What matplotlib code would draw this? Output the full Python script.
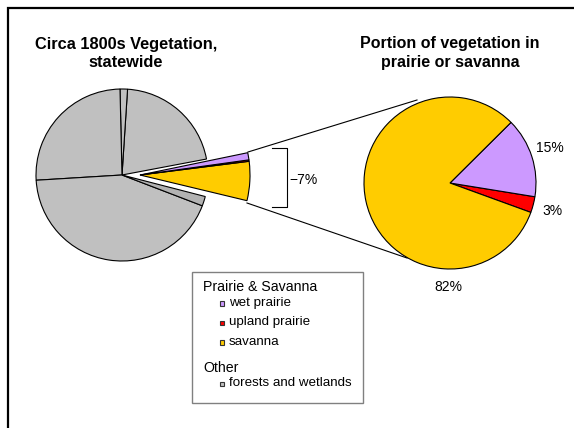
import matplotlib
matplotlib.use('Agg')
import matplotlib.pyplot as plt
from matplotlib.patches import Rectangle

plt.rcParams['font.family'] = ['Liberation Sans', 'DejaVu Sans']

# statewide pie (percent): first entry is the prairie/savanna share, pulled out
state_labels = ['prairie & savanna', 'forest a', 'forest b', 'forest c', 'forest d', 'wetland']
state_values = [7, 21, 1.4, 25.6, 43.2, 1.8]
state_colors = ['none', '#c0c0c0', '#c0c0c0', '#c0c0c0', '#c0c0c0', '#b2b2b2']

# breakdown of the prairie/savanna share
ps_labels = ['upland prairie', 'wet prairie', 'savanna']
ps_values = [3, 15, 82]
ps_colors = ['#ff0000', '#cc99ff', '#ffcc00']

legend_groups = [('Prairie & Savanna', ['wet prairie', 'upland prairie', 'savanna'],
                  ['#cc99ff', '#ff0000', '#ffcc00']),
                 ('Other', ['forests and wetlands'], ['#c0c0c0'])]

W, H = 574, 428
fig = plt.figure(figsize=(W / 100, H / 100), dpi=100)
ax = fig.add_axes([0, 0, 1, 1])

edge = dict(edgecolor='black', linewidth=0.8)

# main pie with a gap where the 7% wedge was
start = -14.5
wedges, _ = ax.pie(state_values, colors=state_colors, startangle=start, counterclock=True,
                   center=(122, H - 175), radius=86, wedgeprops=edge, frame=True)
wedges[0].set_visible(False)

# pulled-out wedge, split into its three parts
share = state_values[0] / 100.0
order = [2, 0, 1]  # savanna at bottom, upland, wet prairie on top
vals = [ps_values[i] * share for i in order] + [100 - state_values[0]]
cols = [ps_colors[i] for i in order] + ['none']
pw, _ = ax.pie(vals, colors=cols, startangle=start + 1.0, counterclock=True,
               center=(140, H - 175), radius=110, wedgeprops=edge, frame=True)
pw[-1].set_visible(False)

# right pie
rw, _ = ax.pie(ps_values, colors=ps_colors, startangle=-20, counterclock=True,
               center=(450, H - 183), radius=86, wedgeprops=edge, frame=True)

ax.set_xlim(0, W)
ax.set_ylim(0, H)
ax.set_aspect('equal')
ax.axis('off')

ax.text(550, H - 148, f'{ps_values[1]}%', fontsize=10, ha='center', va='center')
ax.text(552, H - 211, f'{ps_values[0]}%', fontsize=10, ha='center', va='center')
ax.text(448, H - 287, f'{ps_values[2]}%', fontsize=10, ha='center', va='center')

# connector lines
ax.plot([248, 417], [H - 152, H - 100], color='black', lw=0.8)
ax.plot([247, 407], [H - 203, H - 258], color='black', lw=0.8)

# bracket with 7%
ax.plot([272, 287, 287, 272], [H - 148, H - 148, H - 207, H - 207], color='black', lw=0.8)
ax.text(289, H - 180, f'\u2212{state_values[0]}%', fontsize=10, ha='left', va='center')

# titles
ax.text(126, H - 53, 'Circa 1800s Vegetation,\nstatewide', fontsize=11.8, fontweight='bold',
        ha='center', va='center', linespacing=1.25)
ax.text(450, H - 53, 'Portion of vegetation in\nprairie or savanna', fontsize=11.5,
        fontweight='bold', ha='center', va='center', linespacing=1.27)

# legend box
ax.add_patch(Rectangle((192, H - 403), 171, 131, facecolor='white', edgecolor='#808080', lw=1))
y = 287
for head, names, colors in legend_groups:
    ax.text(203, H - y, head, fontsize=10.2, va='center', ha='left')
    y += 16
    for name, c in zip(names, colors):
        ax.add_patch(Rectangle((219.5, H - y - 2.5), 4.5, 4.5, facecolor=c, edgecolor='#333333', lw=0.8))
        ax.text(229, H - y, name, fontsize=9.6, va='center', ha='left')
        y += 19.5
    y += 6

# outer frame (left and top only visible)
ax.plot([7.5, 7.5, W], [0, H - 7.5, H - 7.5], color='black', lw=1.6, solid_joinstyle='miter')

fig.savefig('out.png', dpi=100)
